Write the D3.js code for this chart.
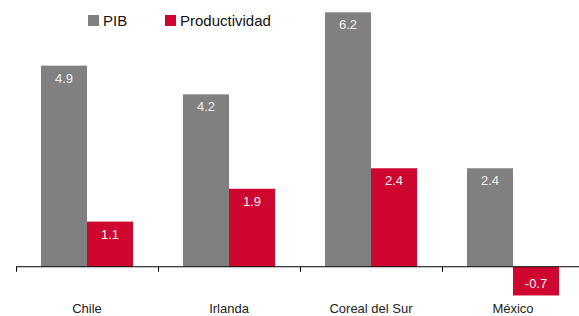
<!DOCTYPE html>
<html>
<head>
<meta charset="utf-8">
<style>
  body { margin: 0; background: #fff; }
  svg { display: block; }
</style>
</head>
<body>
<div id="chart"></div>
<script src="https://d3js.org/d3.v7.min.js"></script>
<script>
var countries = ["Chile", "Irlanda", "Coreal del Sur", "México"];
var seriesNames = ["PIB", "Productividad"];
var pib = [4.9, 4.2, 6.2, 2.4];
var productividad = [1.1, 1.9, 2.4, -0.7];
var colors = ["#808080", "#cf0630"];

var width = 579, height = 316;

var svg = d3.select("#chart").append("svg")
    .attr("width", width)
    .attr("height", height);

var x = d3.scaleBand().domain(countries).range([16, 584]);
var inner = d3.scaleBand().domain(seriesNames).range([25, 117]);
var y = d3.scaleLinear().domain([-1.2, 6.5]).range([316, 0]);

// plain hyphen for negatives, like the original
var fmt = d3.formatLocale({ decimal: ".", thousands: ",", grouping: [3], currency: ["", ""], minus: "-" }).format(".1f");

var rows = countries.map(function(c, i) {
  return { country: c, values: [pib[i], productividad[i]] };
});

var groups = svg.selectAll(".grp")
    .data(rows)
    .enter().append("g")
    .attr("class", "grp")
    .attr("transform", function(d) { return "translate(" + x(d.country) + ",0)"; });

var bars = groups.selectAll(".bar")
    .data(function(d) { return d.values.map(function(v, j) { return { key: seriesNames[j], value: v, j: j }; }); })
    .enter();

bars.append("rect")
    .attr("x", function(d) { return inner(d.key); })
    .attr("width", inner.bandwidth())
    .attr("y", function(d) { return y(Math.max(0, d.value)); })
    .attr("height", function(d) { return Math.abs(y(d.value) - y(0)); })
    .attr("fill", function(d) { return colors[d.j]; });

bars.append("text")
    .attr("x", function(d) { return inner(d.key) + inner.bandwidth() / 2; })
    .attr("y", function(d) { return d.value >= 0 ? y(d.value) + 17 : y(d.value) - 7; })
    .attr("text-anchor", "middle")
    .style("font-family", "Arial, 'Liberation Sans', sans-serif")
    .style("font-size", "13px")
    .style("fill", "#f2f2f2")
    .text(function(d) { return fmt(d.value); });

// axis at zero
var axis = svg.append("g")
    .attr("transform", "translate(0," + y(0) + ")")
    .call(d3.axisBottom(x).tickSize(0).tickFormat(""));
axis.select(".domain").remove();
axis.append("line")
    .attr("x1", 16).attr("x2", width)
    .attr("stroke", "#000").attr("stroke-width", 1);
axis.selectAll(".sep")
    .data(countries)
    .enter().append("line")
    .attr("x1", function(d) { return x(d) + 0.5; })
    .attr("x2", function(d) { return x(d) + 0.5; })
    .attr("y1", 0).attr("y2", 5)
    .attr("stroke", "#000");

svg.selectAll(".cat")
    .data(countries)
    .enter().append("text")
    .attr("x", function(d) { return x(d) + x.bandwidth() / 2; })
    .attr("y", 313)
    .attr("text-anchor", "middle")
    .style("font-family", "Arial, 'Liberation Sans', sans-serif")
    .style("font-size", "13px")
    .style("fill", "#222")
    .text(function(d) { return d; });

// legend
var legendX = [88, 165];
var legend = svg.selectAll(".legend")
    .data(seriesNames)
    .enter().append("g")
    .attr("transform", function(d, i) { return "translate(" + legendX[i] + ",15)"; });
legend.append("rect")
    .attr("width", 11).attr("height", 11)
    .attr("fill", function(d, i) { return colors[i]; });
legend.append("text")
    .attr("x", 15).attr("y", 11)
    .style("font-family", "Arial, 'Liberation Sans', sans-serif")
    .style("font-size", "15px")
    .style("fill", "#111")
    .text(function(d) { return d; });
</script>
</body>
</html>
